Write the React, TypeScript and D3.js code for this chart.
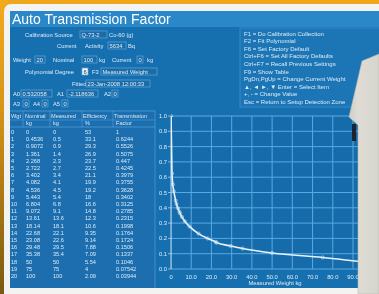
import * as d3 from "d3";

// table columns
const wgtIndex = [0, 1, 2, 3, 4, 5, 6, 7, 8, 9, 10, 11, 12, 13, 14, 15, 16, 17, 18, 19, 20];
const nominalKg = ["0", "0.4536", "0.9072", "1.361", "2.268", "2.722", "3.402", "4.082", "4.536", "5.443", "6.804", "9.072", "13.61", "18.14", "22.68", "23.08", "29.48", "35.38", "50", "75", "100"];
const measuredKg = [0, 0.5, 0.9, 1.4, 2.3, 2.7, 3.4, 4.1, 4.5, 5.4, 6.8, 9.1, 13.6, 18.1, 22.1, 22.6, 29.5, 35.4, 50, 75, 100];
const efficiencyPct = ["53", "33.1", "29.3", "26.9", "23.7", "22.5", "21.1", "19.9", "19.2", "18", "16.6", "14.8", "12.3", "10.6", "9.35", "9.14", "7.88", "7.09", "5.54", "4", "2.09"];
const transmission = [1, 0.6244, 0.5526, 0.5075, 0.447, 0.4245, 0.3979, 0.3755, 0.3628, 0.3402, 0.3125, 0.2785, 0.2315, 0.1998, 0.1764, 0.1724, 0.1506, 0.1337, 0.1046, 0.07542, 0.03944];

const functionKeys = [
  "F1 = Do Calibration Collection",
  "F2 = Fit Polynomial",
  "F6 = Set Factory Default",
  "Ctrl+F6 = Set All Factory Defaults",
  "Ctrl+F7 = Recall Previous Settings",
  "F9 = Show Table",
  "PgDn,PgUp = Change Current Weight",
  "\u25B2, \u25C4 \u25BA, \u25BC Enter = Select Item",
  "+, - = Change Value",
  "Esc = Return to Setup Detection Zone",
];

const xTicks = [0, 10, 20, 30, 40, 50, 60, 70, 80, 90, 100];
const yTicks = [0, 0.1, 0.2, 0.3, 0.4, 0.5, 0.6, 0.7, 0.8, 0.9, 1.0];

const BLUE = "#1870b0";
const TXT = "#dcebf7";
const BOX = "#5aa6dc";
const FONT = "'Liberation Sans', Arial, sans-serif";

const Field = ({ x, y, w, label, hi }: { x: number; y: number; w: number; label: string; hi?: boolean }) => (
  <g>
    <rect x={x} y={y - 5} width={w} height={7} fill={hi ? "#f4f8fb" : "#1b6ca8"} stroke={BOX} strokeWidth={0.7} />
    <text x={x + 1.5} y={y + 0.8} fontSize={5.8} fill={hi ? "#123" : TXT}>{label}</text>
  </g>
);

const Lbl = ({ x, y, t }: { x: number; y: number; t: string }) => (
  <text x={x} y={y + 0.8} fontSize={5.8} fill={TXT}>{t}</text>
);

export default function App() {
  const W = 379, H = 294;
  const plot = { left: 171, right: 379, top: 116, bottom: 269 };

  const x = d3.scaleLinear().domain([0, 90]).range([plot.left, 353]);
  const y = d3.scaleLinear().domain([0, 1]).range([plot.bottom, plot.top]);

  const pts = measuredKg.map((m, i) => [m, transmission[i]] as [number, number]);
  const line = d3.line<[number, number]>()
    .x(d => x(d[0]))
    .y(d => y(d[1]))
    .curve(d3.curveMonotoneX);

  // table rows
  const rowY = d3.scaleLinear().domain([0, 20]).range([132, 276]);
  const cols = [11, 26, 53, 85, 116];

  return (
    <div style={{ position: "absolute", left: 0, top: 0 }}>
      <svg width={W} height={H} style={{ display: "block", fontFamily: FONT }}>
        <defs>
          <linearGradient id="orng" x1="0" y1="0" x2="0" y2="1">
            <stop offset="0" stopColor="#f2aa1e" />
            <stop offset="0.35" stopColor="#d99618" />
            <stop offset="1" stopColor="#7a5a12" />
          </linearGradient>
          <linearGradient id="dev" x1="0" y1="0" x2="1" y2="0">
            <stop offset="0" stopColor="#cfcfc6" />
            <stop offset="0.3" stopColor="#dedcd4" />
            <stop offset="1" stopColor="#d6d5cd" />
          </linearGradient>
          <clipPath id="plotClip">
            <rect x={plot.left} y={plot.top - 2} width={plot.right - plot.left} height={plot.bottom - plot.top + 4} />
          </clipPath>
          <filter id="soft" x="-2%" y="-2%" width="104%" height="104%">
            <feGaussianBlur stdDeviation="0.35" />
          </filter>
        </defs>

        {/* photo surround */}
        <rect x={0} y={0} width={W} height={H} fill="#f0a61c" />
        <rect x={0} y={0} width={8} height={H} fill="url(#orng)" />
        <rect x={4} y={4} width={400} height={310} rx={7} fill="#f3f3f1" />

        <g filter="url(#soft)">
          {/* screen */}
          <rect x={10} y={11} width={370} height={277} fill={BLUE} />
          <rect x={10} y={11} width={370} height={16} fill="#2a88c8" />
          <text x={12} y={24} fontSize={14} fill="#ffffff">Auto Transmission Factor</text>

          {/* settings form */}
          <Lbl x={25} y={36} t="Calibration Source" />
          <Field x={80} y={36} w={27} label="Q-73-2" />
          <Lbl x={109} y={36} t="Co-60 (g)" />
          <Lbl x={57} y={47} t="Current" />
          <Lbl x={85} y={47} t="Activity" />
          <Field x={108} y={47} w={18} label="5634" />
          <Lbl x={128} y={47} t="Bq" />
          <Lbl x={13} y={61} t="Weight" />
          <Field x={35} y={61} w={10} label="20" />
          <Lbl x={53} y={61} t="Nominal" />
          <Field x={82} y={61} w={15} label="100" />
          <Lbl x={99} y={61} t="kg" />
          <Lbl x={112} y={61} t="Current" />
          <Field x={137} y={61} w={6} label="0" />
          <Lbl x={147} y={61} t="kg" />
          <Lbl x={25} y={73} t="Polynomial Degree" />
          <Field x={82} y={73} w={6} label="6" hi />
          <Lbl x={92} y={73} t="F3" />
          <Field x={101} y={73} w={56} label="Measured Weight" />
          <Lbl x={72} y={85} t="Fitted" />
          <Field x={86} y={85} w={64} label="23-Jan-2008 12:00:33" />
          <Lbl x={13} y={95} t="A0" />
          <Field x={21} y={95} w={31} label="0.532058" />
          <Lbl x={57} y={95} t="A1" />
          <Field x={67} y={95} w={31} label="-2.118636" />
          <Lbl x={104} y={95} t="A2" />
          <Field x={112} y={95} w={6} label="0" />
          <Lbl x={13} y={105} t="A3" />
          <Field x={23} y={105} w={6} label="0" />
          <Lbl x={33} y={105} t="A4" />
          <Field x={42} y={105} w={6} label="0" />
          <Lbl x={53} y={105} t="A5" />
          <Field x={62} y={105} w={6} label="0" />

          {/* function keys */}
          <rect x={240} y={28} width={150} height={79} fill="#1d76b6" stroke="#3f92cc" strokeWidth={0.8} />
          {functionKeys.map((t, i) => (
            <text key={t} x={244} y={35.5 + i * 7.6} fontSize={6} fill={TXT}>{t}</text>
          ))}

          {/* table */}
          <rect x={10} y={111} width={145} height={177} fill="#1a6eae" />
          <line x1={10} x2={155} y1={111} y2={111} stroke={BOX} strokeWidth={0.7} />
          <line x1={10} x2={155} y1={120} y2={120} stroke={BOX} strokeWidth={0.5} />
          <line x1={10} x2={155} y1={127} y2={127} stroke={BOX} strokeWidth={0.7} />
          {[23, 50, 82, 113, 155].map(cx => (
            <line key={cx} x1={cx} x2={cx} y1={111} y2={127} stroke={BOX} strokeWidth={0.6} />
          ))}
          <line x1={155} x2={155} y1={127} y2={288} stroke={BOX} strokeWidth={0.6} />
          {["Wgt", "Nominal", "Measured", "Efficiency", "Transmission"].map((h, i) => (
            <text key={h} x={[11, 25, 51, 83, 114][i]} y={117.5} fontSize={5.6} fill={TXT}>{h}</text>
          ))}
          {["", "kg", "kg", "%", "Factor"].map((h, i) => (
            <text key={i} x={[11, 26, 53, 85, 116][i]} y={125} fontSize={5.6} fill={TXT}>{h}</text>
          ))}
          {wgtIndex.map((w, i) => (
            <g key={w} fontSize={5.6} fill={TXT}>
              <text x={cols[0]} y={rowY(i) + 2}>{w}</text>
              <text x={cols[1]} y={rowY(i) + 2}>{nominalKg[i]}</text>
              <text x={cols[2]} y={rowY(i) + 2}>{measuredKg[i]}</text>
              <text x={cols[3]} y={rowY(i) + 2}>{efficiencyPct[i]}</text>
              <text x={cols[4]} y={rowY(i) + 2}>{transmission[i]}</text>
            </g>
          ))}

          {/* chart */}
          <rect x={plot.left} y={plot.top} width={plot.right - plot.left} height={plot.bottom - plot.top} fill="#186cab" />
          <g clipPath="url(#plotClip)">
            {xTicks.map(t => (
              <line key={t} x1={x(t)} x2={x(t)} y1={plot.top} y2={plot.bottom} stroke="#56a9e2" strokeWidth={1} />
            ))}
            {yTicks.map(t => (
              <line key={t} x1={plot.left} x2={plot.right} y1={y(t)} y2={y(t)} stroke="#56a9e2" strokeWidth={1} />
            ))}
            <path d={line(pts) ?? ""} fill="none" stroke="#e6f3fd" strokeWidth={1.6} />
            {pts.map((p, i) => (
              <circle key={i} cx={x(p[0])} cy={y(p[1])} r={1.6} fill="none" stroke="#cfe6f7" strokeWidth={0.6} />
            ))}
          </g>
          <line x1={plot.left} x2={plot.left} y1={plot.top} y2={plot.bottom} stroke="#e6f3fd" strokeWidth={0.8} />
          {yTicks.map(t => (
            <g key={t}>
              <line x1={plot.left - 3} x2={plot.left} y1={y(t)} y2={y(t)} stroke={TXT} strokeWidth={0.6} />
              <text x={plot.left - 4} y={y(t) + 2} fontSize={5.8} textAnchor="end" fill={TXT}>{d3.format(".1f")(t)}</text>
            </g>
          ))}
          {xTicks.map(t => (
            <text key={t} x={x(t)} y={279} fontSize={5.8} textAnchor="middle" fill={TXT}>{t === 0 ? "0" : d3.format(".1f")(t)}</text>
          ))}
          <text x={275} y={285} fontSize={5.8} textAnchor="middle" fill={TXT}>Measured Weight kg</text>
        </g>

        {/* instrument edge in front of the screen */}
        <polygon points="362,61 379,54 379,294 358,294 358,125 349,117" fill="url(#dev)" stroke="#b9b8b0" strokeWidth={0.6} />
        <rect x={352} y={124} width={4} height={17} fill="#1a2530" />
      </svg>
    </div>
  );
}
